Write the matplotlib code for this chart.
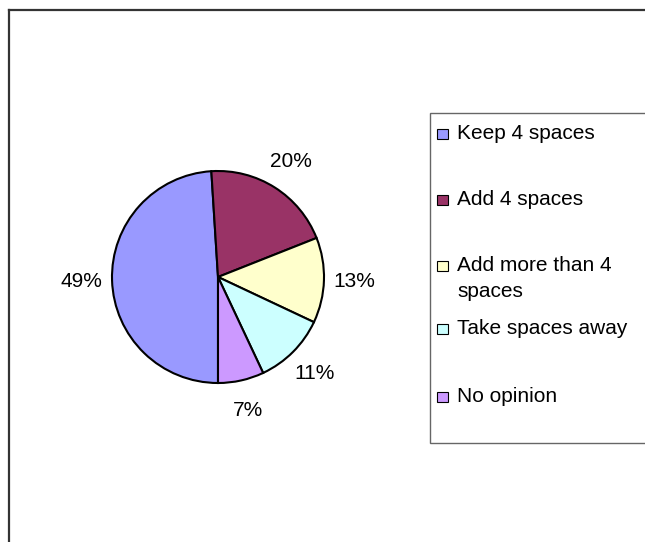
import matplotlib
matplotlib.use('Agg')
import matplotlib.pyplot as plt
from matplotlib.patches import Rectangle
from matplotlib.lines import Line2D

plt.rcParams['font.family'] = ['Liberation Sans', 'DejaVu Sans']

labels = ['Keep 4 spaces', 'Add 4 spaces', 'Add more than 4\nspaces', 'Take spaces away', 'No opinion']
shares = [49, 20, 13, 11, 7]
colors = ['#9999FF', '#993366', '#FFFFCC', '#CCFFFF', '#CC99FF']

W, H = 645, 542
fig = plt.figure(figsize=(W / 100, H / 100), dpi=100)

# pie centre and radius in pixels
cx, cy, r = 218, 277, 106
span = 1.6
ax = fig.add_axes([(cx - span * r) / W, (H - cy - span * r) / H, 2 * span * r / W, 2 * span * r / H])
ax.pie(shares, colors=colors, startangle=-90, counterclock=False,
       autopct='%1.0f%%', pctdistance=1.29,
       wedgeprops=dict(edgecolor='black', linewidth=1.5),
       textprops=dict(fontsize=15, color='black'))
ax.set_xlim(-span, span)
ax.set_ylim(-span, span)
ax.set_aspect('equal')
ax.axis('off')

# outer chart frame (only left and top edges visible)
fig.add_artist(Line2D([9 / W, 9 / W], [0, 1 - 10 / H], color='#333333', linewidth=1.6))
fig.add_artist(Line2D([9 / W, 1], [1 - 10 / H, 1 - 10 / H], color='#333333', linewidth=1.6))

# legend box
lx0, ly0, ly1 = 430, 113, 443
fig.add_artist(Rectangle((lx0 / W, 1 - ly1 / H), (W + 10 - lx0) / W, (ly1 - ly0) / H,
                         transform=fig.transFigure, facecolor='white', edgecolor='#666666',
                         linewidth=1.0, clip_on=False))
entry_y = [134, 200, 266, 329, 397]
for lab, col, y in zip(labels, colors, entry_y):
    fig.add_artist(Rectangle((437 / W, 1 - (y + 5) / H), 11 / W, 10 / H,
                             transform=fig.transFigure, facecolor=col, edgecolor='black',
                             linewidth=0.8))
    fig.text(457 / W, 1 - (y - 10) / H, lab, fontsize=15, va='top', ha='left',
             linespacing=1.45)

fig.savefig('out.png', dpi=100)
